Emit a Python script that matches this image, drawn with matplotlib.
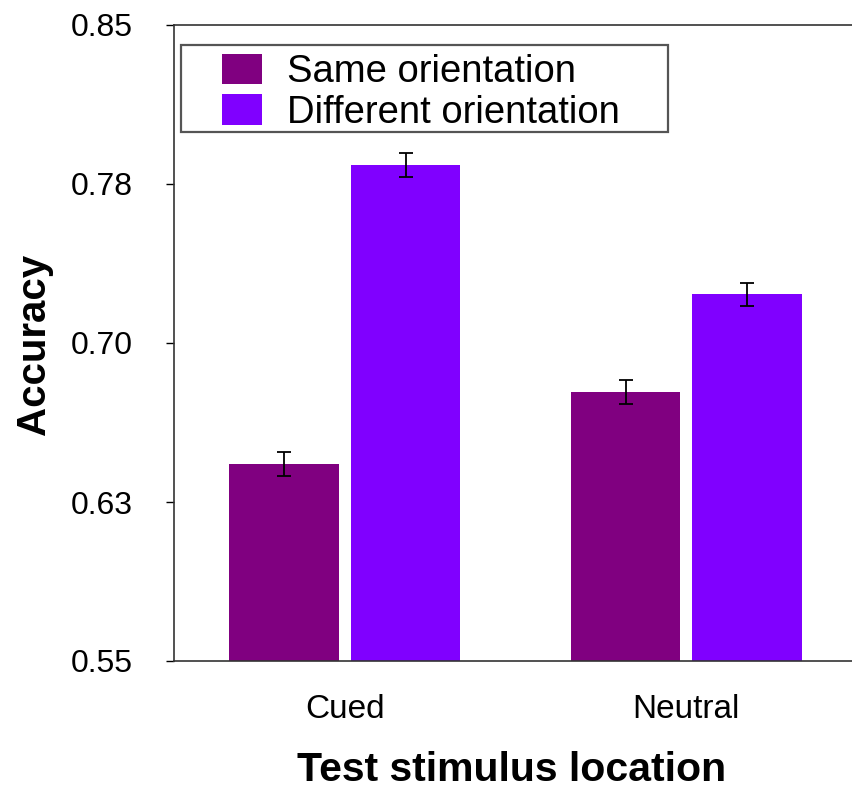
import numpy as np
import matplotlib
matplotlib.use("Agg")
import matplotlib.pyplot as plt
from matplotlib.patches import Rectangle

plt.rcParams["font.family"] = ["Liberation Sans", "DejaVu Sans"]

locations = ["Cued", "Neutral"]
same_acc = [0.643, 0.677]
diff_acc = [0.784, 0.723]
same_err = [0.0056, 0.0056]
diff_err = [0.0055, 0.0055]
series_names = ["Same orientation", "Different orientation"]
ytick_vals = [0.55, 0.625, 0.70, 0.775, 0.85]
ytick_labels = ["0.55", "0.63", "0.70", "0.78", "0.85"]

fig = plt.figure(figsize=(8.52, 7.88), dpi=100)
ax = fig.add_axes([174 / 852, 127 / 788, 678 / 852, 636 / 788])

x = np.arange(len(locations))
w = 0.32
off = 0.178
err_kw = dict(ecolor="black", elinewidth=1.3, capsize=5, capthick=1.3)
ax.bar(x - off, same_acc, w, color="#800080", yerr=same_err,
       error_kw=err_kw, label=series_names[0])
ax.bar(x + off, diff_acc, w, color="#8000ff", yerr=diff_err,
       error_kw=err_kw, label=series_names[1])

ax.set_ylim(0.55, 0.85)
ax.set_xlim(-0.5, 1.485)
ax.set_yticks(ytick_vals)
ax.set_yticklabels(ytick_labels, fontsize=23)
ax.set_xticks(x)
ax.set_xticklabels(locations, fontsize=24)
ax.tick_params(axis="x", length=0, pad=24)
ax.tick_params(axis="y", length=6, width=1, direction="out", pad=24)

for s in ["left", "top", "bottom"]:
    ax.spines[s].set_color("#333333")
    ax.spines[s].set_linewidth(1.2)
ax.spines["right"].set_visible(False)

ax.set_ylabel("Accuracy", fontsize=29, fontweight="bold")
ax.yaxis.set_label_coords(-0.178, 0.497)
ax.set_xlabel("Test stimulus location", fontsize=29.5, fontweight="bold")
ax.xaxis.set_label_coords(0.4985, -0.142)

# legend frame drawn separately so padding can differ horizontally/vertically
ax.add_patch(Rectangle((0.0103, 0.8318), 0.7183, 0.1368, transform=ax.transAxes,
                       fill=False, edgecolor="#555555", linewidth=1.6, zorder=5))
ax.legend(loc="upper left", bbox_to_anchor=(0.0708, 0.9545), frameon=False,
          fontsize=27.5, borderpad=0, borderaxespad=0, handlelength=1.05,
          handleheight=0.85, handletextpad=0.65, labelspacing=0.1)

fig.savefig("out.png", dpi=100)
